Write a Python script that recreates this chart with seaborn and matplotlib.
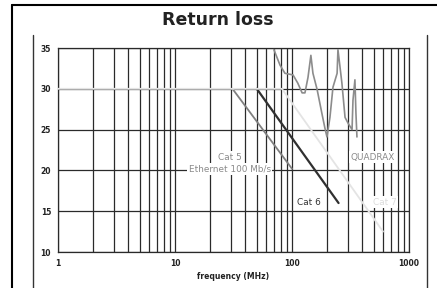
import matplotlib
matplotlib.use("Agg")
import matplotlib.pyplot as plt
from matplotlib.lines import Line2D
import seaborn as sns
import pandas as pd

# ---- data ----
cat5_freq = [31, 100]
cat5_db = [30, 20.2]
cat6_freq = [50, 250]
cat6_db = [30, 16]
cat7_freq = [1, 82, 600]
cat7_db = [30, 30, 12.5]
quadrax_freq = [70, 79, 87, 102, 112, 122, 129, 137, 145, 151, 164, 180, 191, 199,
                211, 224, 243, 247, 267, 284, 301, 326, 332, 345, 352, 359]
quadrax_db = [34.8, 32.9, 31.9, 31.7, 30.7, 29.5, 29.5, 31.4, 34.1, 31.9, 29.9, 27.0,
              25.2, 24.1, 26.5, 30.2, 31.9, 34.8, 30.7, 26.5, 25.8, 25.0, 28.6, 31.1,
              27.0, 24.1]
x_ticks = [1, 10, 100, 1000]
y_ticks = [10, 15, 20, 25, 30, 35]

series = {"Cat 5": (cat5_freq, cat5_db), "Cat 6": (cat6_freq, cat6_db),
          "Cat 7": (cat7_freq, cat7_db), "QUADRAX": (quadrax_freq, quadrax_db)}
rows = []
for name, (fs, ds) in series.items():
    for i, (f, d) in enumerate(zip(fs, ds)):
        rows.append({"series": name, "order": i, "freq": f, "db": d})
df = pd.DataFrame(rows)

palette = {"Cat 5": "#808080", "Cat 6": "#303030", "Cat 7": "#e4e4e4", "QUADRAX": "#8c8c8c"}
widths = {"Cat 5": 1.3, "Cat 6": 1.6, "Cat 7": 1.3, "QUADRAX": 1.2}

sns.set_style("white")
fig = plt.figure(figsize=(4.37, 2.88), dpi=100)
ax = fig.add_axes([58/437, 36/288, 351/437, 204/288])
ax.set_axisbelow(True)

for name in series:
    sub = df[df.series == name]
    sns.lineplot(data=sub, x="freq", y="db", sort=False, estimator=None,
                 color=palette[name], linewidth=widths[name], ax=ax, legend=False, zorder=3)

ax.set_xscale("log")
ax.set_xlim(1, 1000)
ax.set_ylim(10, 35)
ax.set_xticks(x_ticks)
ax.set_xticklabels([str(t) for t in x_ticks])
ax.set_yticks(y_ticks)
ax.set_yticklabels([str(t) for t in y_ticks])
ax.xaxis.set_minor_locator(matplotlib.ticker.LogLocator(base=10, subs=range(2, 10)))
ax.xaxis.set_minor_formatter(matplotlib.ticker.NullFormatter())
ax.grid(True, which="both", axis="x", color="#2a2a2a", linewidth=0.9)
ax.grid(True, which="major", axis="y", color="#2a2a2a", linewidth=0.9)
ax.tick_params(axis="both", which="major", length=3, width=0.8, color="#333333",
               labelsize=5.5, pad=2)
ax.tick_params(axis="x", which="minor", length=0)
for lab in ax.get_xticklabels() + ax.get_yticklabels():
    lab.set_fontweight("bold")
    lab.set_color("#222222")
for s in ax.spines.values():
    s.set_color("#2a2a2a")
    s.set_linewidth(0.9)

ax.set_xlabel("frequency (MHz)", fontsize=5.5, fontweight="bold", color="#222222", labelpad=3)
ax.set_ylabel("")

bbox = dict(facecolor="white", edgecolor="none", pad=1.0)
fs = 6.4
ax.text(29.5, 21.6, "Cat 5", fontsize=fs, color="#8a8a8a", ha="center", va="center", bbox=bbox, zorder=4)
ax.text(29.5, 20.2, "Ethernet 100 Mb/s", fontsize=fs, color="#8a8a8a", ha="center", va="center", bbox=bbox, zorder=4)
ax.text(140, 16.1, "Cat 6", fontsize=fs, color="#333333", ha="center", va="center", bbox=bbox, zorder=4)
ax.text(492, 21.6, "QUADRAX", fontsize=fs, color="#8a8a8a", ha="center", va="center", bbox=bbox, zorder=4)
ax.text(624, 16.1, "Cat 7", fontsize=fs, color="#dcdcdc", ha="center", va="center", bbox=bbox, zorder=4)

fig.text(218/437, 1 - 20/288, "Return loss", fontsize=12.5, fontweight="bold",
         color="#222222", ha="center", va="center")

# frames
fig.add_artist(Line2D([12/437, 1], [1 - 5/288, 1 - 5/288], transform=fig.transFigure, color="black", linewidth=1.5))
fig.add_artist(Line2D([12/437, 12/437], [0, 1 - 5/288], transform=fig.transFigure, color="black", linewidth=1.5))
fig.add_artist(Line2D([33/437, 33/437], [0, 1 - 35/288], transform=fig.transFigure, color="#333333", linewidth=1.0))
fig.add_artist(Line2D([427/437, 427/437], [0, 1 - 35/288], transform=fig.transFigure, color="#333333", linewidth=1.0))

fig.savefig("out.png", dpi=100)
